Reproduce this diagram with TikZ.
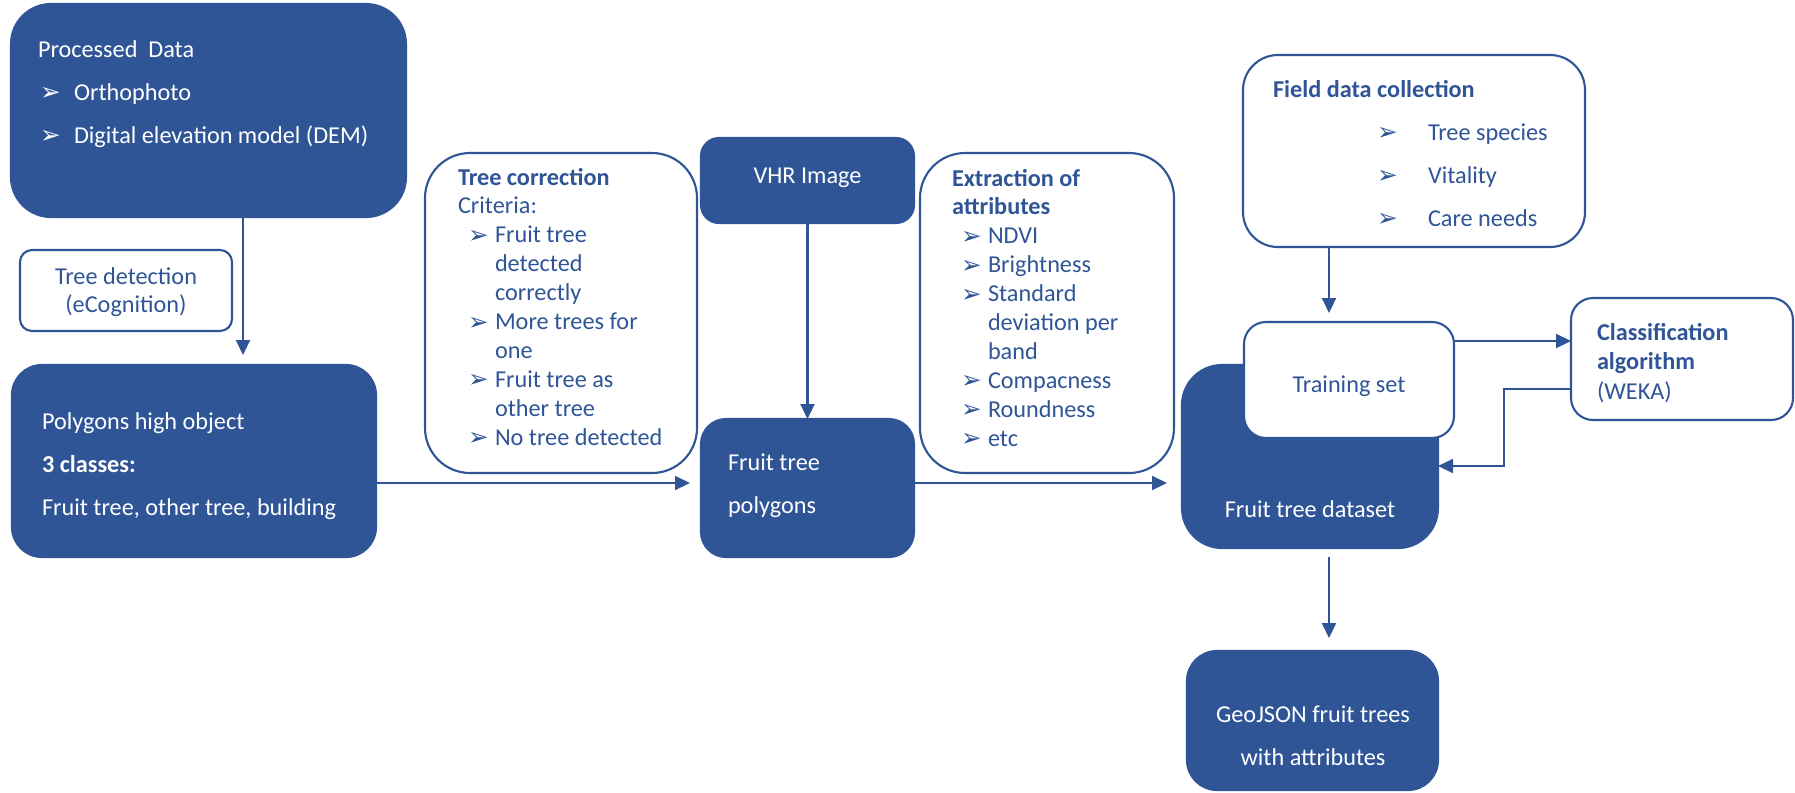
\documentclass[tikz,border=0pt]{standalone}
\usepackage{fontspec}
\setmainfont{Carlito}
\newfontfamily\dejavu{DejaVu Sans}
\usetikzlibrary{arrows.meta}
\definecolor{dblue}{RGB}{47,85,151}
\newlength\upx
\setlength\upx{0.02cm}
\newcommand\bul{{\dejavu\fontsize{14}{14}\selectfont\raisebox{-0.3pt}{\char"27A2}}}
\begin{document}
\begin{tikzpicture}[x=0.02cm,y=-0.02cm,
  every node/.style={inner sep=0pt, outer sep=0pt},
  dark/.style={fill=dblue, draw=dblue, line width=1.2pt},
  light/.style={fill=white, draw=dblue, line width=1.2pt},
  bigsp/.style={font=\fontsize{13.8}{24.5}\selectfont},
  smsp/.style={font=\fontsize{13.8}{16.45}\selectfont},
  wtxt/.style={text=white, anchor=base west},
  btxt/.style={text=dblue, anchor=base west},
  arr/.style={draw=dblue, line width=1.2pt, -{Triangle[length=0.3cm,width=0.28cm]}}]
\useasboundingbox (0,0) rectangle (1795,792);

% boxes
\node[dark, rounded corners=0.8cm, minimum width=395\upx, minimum height=213\upx] (PD) at (208.5,110.5) {};
\node[light, rounded corners=0.24cm, minimum width=212\upx, minimum height=81\upx] (TD) at (126,290.5) {};
\node[dark, rounded corners=0.6cm, minimum width=364\upx, minimum height=192\upx] (PH) at (194,461) {};
\node[light, rounded corners=0.9cm, minimum width=272\upx, minimum height=320\upx] (TC) at (561,313) {};
\node[dark, rounded corners=0.36cm, minimum width=213\upx, minimum height=85\upx] (VHR) at (807.5,180.5) {};
\node[dark, rounded corners=0.5cm, minimum width=213\upx, minimum height=138\upx] (FTP) at (807.5,488) {};
\node[light, rounded corners=0.9cm, minimum width=254\upx, minimum height=320\upx] (EX) at (1047,313) {};
\node[light, rounded corners=0.7cm, minimum width=342\upx, minimum height=192\upx] (FD) at (1414,151) {};
\node[dark, rounded corners=0.8cm, minimum width=256\upx, minimum height=183\upx] (DS) at (1310,456.5) {};
\node[light, rounded corners=0.44cm, minimum width=210\upx, minimum height=116\upx] (TS) at (1349,380) {};
\node[light, rounded corners=0.44cm, minimum width=222\upx, minimum height=122\upx] (CA) at (1682,359) {};
\node[dark, rounded corners=0.6cm, minimum width=251\upx, minimum height=139\upx] (GEO) at (1312.5,720.5) {};

% texts
\node[wtxt, bigsp] (pd-t) at (38,57) {\begin{tabular}[t]{@{\hspace{2\upx}}p{34\upx}@{}l@{}}
\multicolumn{2}{@{}l@{}}{Processed\ \ Data}\\
\bul & Orthophoto\\
\bul & Digital elevation model (DEM)
\end{tabular}};

\node[btxt, smsp, anchor=base] (td-t) at (126,284) {\begin{tabular}[t]{@{}c@{}}Tree detection\\(eCognition)\end{tabular}};

\node[wtxt, bigsp] (ph-t) at (42,429) {\begin{tabular}[t]{@{}l@{}}
Polygons high object\\
\textbf{3 classes:}\\
Fruit tree, other tree, building
\end{tabular}};

\node[btxt, smsp] (tc-t) at (458,185) {\begin{tabular}[t]{@{\hspace{10\upx}}p{27\upx}@{}l@{}}
\multicolumn{2}{@{}l@{}}{\textbf{Tree correction}}\\
\multicolumn{2}{@{}l@{}}{Criteria:}\\
\bul & Fruit tree\\
 & detected\\
 & correctly\\
\bul & More trees for\\
 & one\\
\bul & Fruit tree as\\
 & other tree\\
\bul & No tree detected
\end{tabular}};

\node[wtxt, anchor=base, smsp] (vhr-t) at (807.5,183) {VHR Image};

\node[wtxt, bigsp] (ftp-t) at (728,470) {\begin{tabular}[t]{@{}l@{}}Fruit tree\\polygons\end{tabular}};

\node[btxt, smsp] (ex-t) at (952,186) {\begin{tabular}[t]{@{\hspace{9\upx}}p{27\upx}@{}l@{}}
\multicolumn{2}{@{}l@{}}{\textbf{Extraction of}}\\
\multicolumn{2}{@{}l@{}}{\textbf{attributes}}\\
\bul & NDVI\\
\bul & Brightness\\
\bul & Standard\\
 & deviation per\\
 & band\\
\bul & Compacness\\
\bul & Roundness\\
\bul & etc
\end{tabular}};

\node[btxt, bigsp] (fd-t) at (1273,97) {\begin{tabular}[t]{@{}p{104\upx}@{}p{51\upx}@{}l@{}}
\multicolumn{3}{@{}l@{}}{\textbf{Field data collection}}\\
 & \bul & Tree species\\
 & \bul & Vitality\\
 & \bul & Care needs
\end{tabular}};

\node[btxt, anchor=base, smsp] (ts-t) at (1349,392) {Training set};
\node[wtxt, anchor=base, smsp] (ds-t) at (1310,517) {Fruit tree dataset};

\node[btxt, font=\fontsize{13.8}{17}\selectfont] (ca-t) at (1597,340) {\begin{tabular}[t]{@{}l@{}}
\textbf{Classification}\\
\textbf{algorithm}\\
(WEKA)
\end{tabular}};

\node[wtxt, bigsp, anchor=base] (geo-t) at (1313,722) {\begin{tabular}[t]{@{}c@{}}GeoJSON fruit trees\\with attributes\end{tabular}};

% connector helpers
\coordinate (xa) at (243,0);
\coordinate (ya) at (0,483);
\coordinate (xb) at (1329,0);
\coordinate (yc) at (0,341);
\coordinate (ca1) at (1504,389);
\coordinate (ca2) at (1504,466);

% connectors
\draw[arr, shorten >=10\upx] (PD.south -| xa) -- (PH.north -| xa);
\draw[arr, shorten >=11\upx] (PH.east |- ya) -- (FTP.west |- ya);
\draw[arr] (VHR.south) -- (FTP.north);
\draw[arr, shorten >=15\upx] (FTP.east |- ya) -- (DS.west |- ya);
\draw[arr, shorten >=9\upx] (FD.south -| xb) -- (TS.north -| xb);
\draw[arr] (TS.east |- yc) -- (CA.west |- yc);
\draw[arr] (CA.west |- ca1) -- (ca1) -- (ca2) -- (DS.east |- ca2);
\draw[arr, shorten <=9\upx, shorten >=13\upx] (DS.south -| xb) -- (GEO.north -| xb);
\end{tikzpicture}
\end{document}
